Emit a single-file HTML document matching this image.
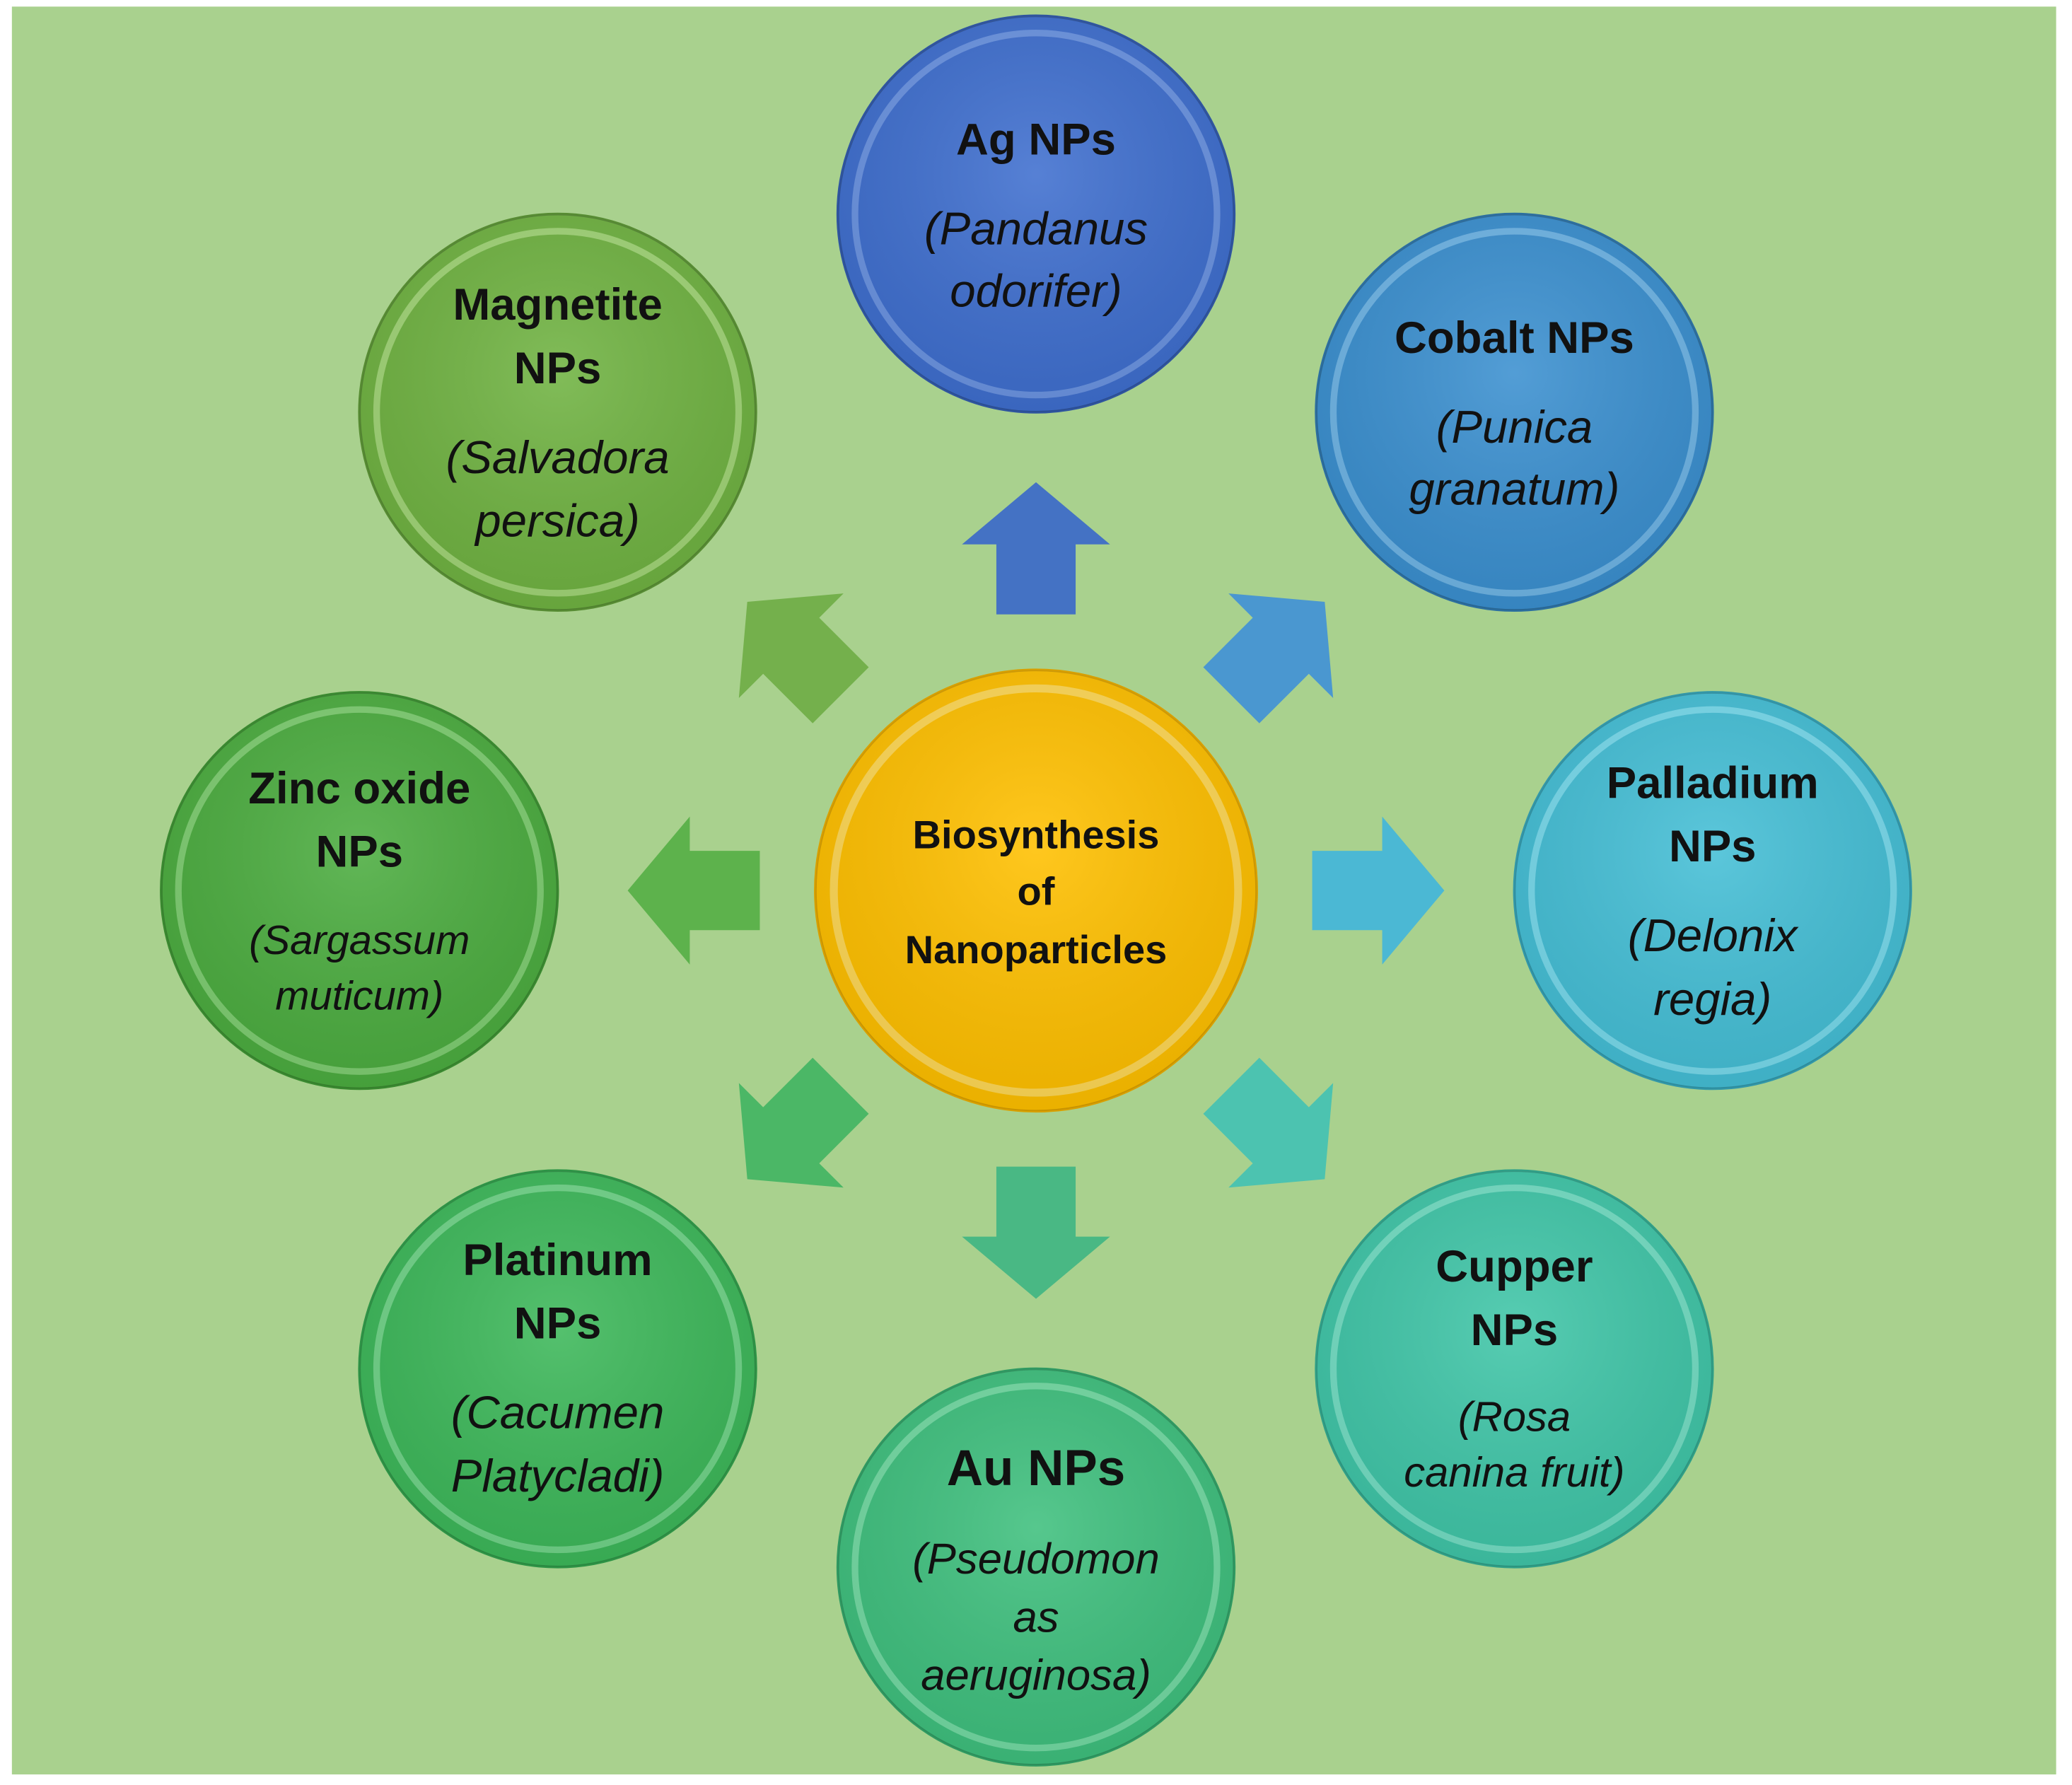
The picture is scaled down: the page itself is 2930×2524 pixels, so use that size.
<!DOCTYPE html>
<html><head><meta charset="utf-8"><style>
html,body{margin:0;padding:0;background:#fff;}
svg{display:block;}
text{font-family:"Liberation Sans",sans-serif;fill:#111;text-anchor:middle;}
.b{font-weight:bold;font-size:34px;}
.i{font-style:italic;font-size:35px;}
</style></head><body>
<svg width="2930" height="2524" viewBox="0 0 1568 1351" preserveAspectRatio="none" xmlns="http://www.w3.org/2000/svg">
<defs>
<radialGradient id="g" cx="50%" cy="40%" r="60%"><stop offset="0" stop-color="#fff" stop-opacity="0.12"/><stop offset="1" stop-color="#000" stop-opacity="0.08"/></radialGradient>
</defs>
<rect x="0" y="0" width="1568" height="1351" fill="#fff"/>
<rect x="9" y="5" width="1547" height="1338" fill="#a9d18e"/>

<g id="arrows">
<polygon points="784,365 840,412 814,412 814,465 754,465 754,412 728,412" fill="#4472c4"/>
<polygon points="784,365 840,412 814,412 814,465 754,465 754,412 728,412" fill="#4a97d0" transform="rotate(45 784 674)"/>
<polygon points="784,365 840,412 814,412 814,465 754,465 754,412 728,412" fill="#4bb8d4" transform="rotate(90 784 674)"/>
<polygon points="784,365 840,412 814,412 814,465 754,465 754,412 728,412" fill="#4cc3b0" transform="rotate(135 784 674)"/>
<polygon points="784,365 840,412 814,412 814,465 754,465 754,412 728,412" fill="#49b884" transform="rotate(180 784 674)"/>
<polygon points="784,365 840,412 814,412 814,465 754,465 754,412 728,412" fill="#4bb766" transform="rotate(225 784 674)"/>
<polygon points="784,365 840,412 814,412 814,465 754,465 754,412 728,412" fill="#5db24c" transform="rotate(270 784 674)"/>
<polygon points="784,365 840,412 814,412 814,465 754,465 754,412 728,412" fill="#74b04c" transform="rotate(315 784 674)"/>
</g>

<!-- circles -->
<g stroke-width="2">
<circle cx="784" cy="162" r="150" fill="#3f6fcf" stroke="#2f55a0"/>
<circle cx="784" cy="162" r="137" fill="none" stroke="#7fa4ea" stroke-width="5" opacity="0.7"/>
<circle cx="1146" cy="312" r="150" fill="#3b90d0" stroke="#2c6fa0"/>
<circle cx="1146" cy="312" r="137" fill="none" stroke="#86c4f0" stroke-width="5" opacity="0.7"/>
<circle cx="1296" cy="674" r="150" fill="#45bfd6" stroke="#3298aa"/>
<circle cx="1296" cy="674" r="137" fill="none" stroke="#8fe6f5" stroke-width="5" opacity="0.7"/>
<circle cx="1146" cy="1036" r="150" fill="#40c6a8" stroke="#30a088"/>
<circle cx="1146" cy="1036" r="137" fill="none" stroke="#8ae8d0" stroke-width="5" opacity="0.7"/>
<circle cx="784" cy="1186" r="150" fill="#3fc07e" stroke="#2f9a62"/>
<circle cx="784" cy="1186" r="137" fill="none" stroke="#8ae6b4" stroke-width="5" opacity="0.7"/>
<circle cx="422" cy="1036" r="150" fill="#3db85a" stroke="#2e9446"/>
<circle cx="422" cy="1036" r="137" fill="none" stroke="#88e09c" stroke-width="5" opacity="0.7"/>
<circle cx="272" cy="674" r="150" fill="#4cad40" stroke="#3a8a30"/>
<circle cx="272" cy="674" r="137" fill="none" stroke="#96dc88" stroke-width="5" opacity="0.7"/>
<circle cx="422" cy="312" r="150" fill="#70b342" stroke="#578c33"/>
<circle cx="422" cy="312" r="137" fill="none" stroke="#b6e48e" stroke-width="5" opacity="0.7"/>
<circle cx="784" cy="674" r="167" fill="#ffc000" stroke="#d9a000"/>
<circle cx="784" cy="674" r="153" fill="none" stroke="#ffe27a" stroke-width="6" opacity="0.7"/>
</g>
<g fill="url(#g)">
<circle cx="784" cy="162" r="150"/><circle cx="1146" cy="312" r="150"/><circle cx="1296" cy="674" r="150"/>
<circle cx="1146" cy="1036" r="150"/><circle cx="784" cy="1186" r="150"/><circle cx="422" cy="1036" r="150"/>
<circle cx="272" cy="674" r="150"/><circle cx="422" cy="312" r="150"/><circle cx="784" cy="674" r="167"/>
</g>

<!-- text -->
<text class="b" x="784" y="117">Ag NPs</text>
<text class="i" x="784" y="185">(Pandanus</text>
<text class="i" x="784" y="232">odorifer)</text>

<text class="b" x="1146" y="267">Cobalt NPs</text>
<text class="i" x="1146" y="335">(Punica</text>
<text class="i" x="1146" y="382">granatum)</text>

<text class="b" x="1296" y="604">Palladium</text>
<text class="b" x="1296" y="652">NPs</text>
<text class="i" x="1296" y="720">(Delonix</text>
<text class="i" x="1296" y="768">regia)</text>

<text class="b" x="1146" y="970">Cupper</text>
<text class="b" x="1146" y="1018">NPs</text>
<text class="i" x="1146" y="1083" style="font-size:32px">(Rosa</text>
<text class="i" x="1146" y="1125" style="font-size:32px">canina fruit)</text>

<text class="b" x="784" y="1124" style="font-size:38px">Au NPs</text>
<text class="i" x="784" y="1191" style="font-size:33px">(Pseudomon</text>
<text class="i" x="784" y="1235" style="font-size:33px">as</text>
<text class="i" x="784" y="1279" style="font-size:33px">aeruginosa)</text>

<text class="b" x="422" y="965">Platinum</text>
<text class="b" x="422" y="1013">NPs</text>
<text class="i" x="422" y="1081">(Cacumen</text>
<text class="i" x="422" y="1129">Platycladi)</text>

<text class="b" x="272" y="608">Zinc oxide</text>
<text class="b" x="272" y="656">NPs</text>
<text class="i" x="272" y="722" style="font-size:31px">(Sargassum</text>
<text class="i" x="272" y="764" style="font-size:31px">muticum)</text>

<text class="b" x="422" y="242">Magnetite</text>
<text class="b" x="422" y="290">NPs</text>
<text class="i" x="422" y="358">(Salvadora</text>
<text class="i" x="422" y="406">persica)</text>

<text class="b" x="784" y="642" style="font-size:30px">Biosynthesis</text>
<text class="b" x="784" y="685" style="font-size:30px">of</text>
<text class="b" x="784" y="729" style="font-size:30px">Nanoparticles</text>
</svg>
</body></html>
